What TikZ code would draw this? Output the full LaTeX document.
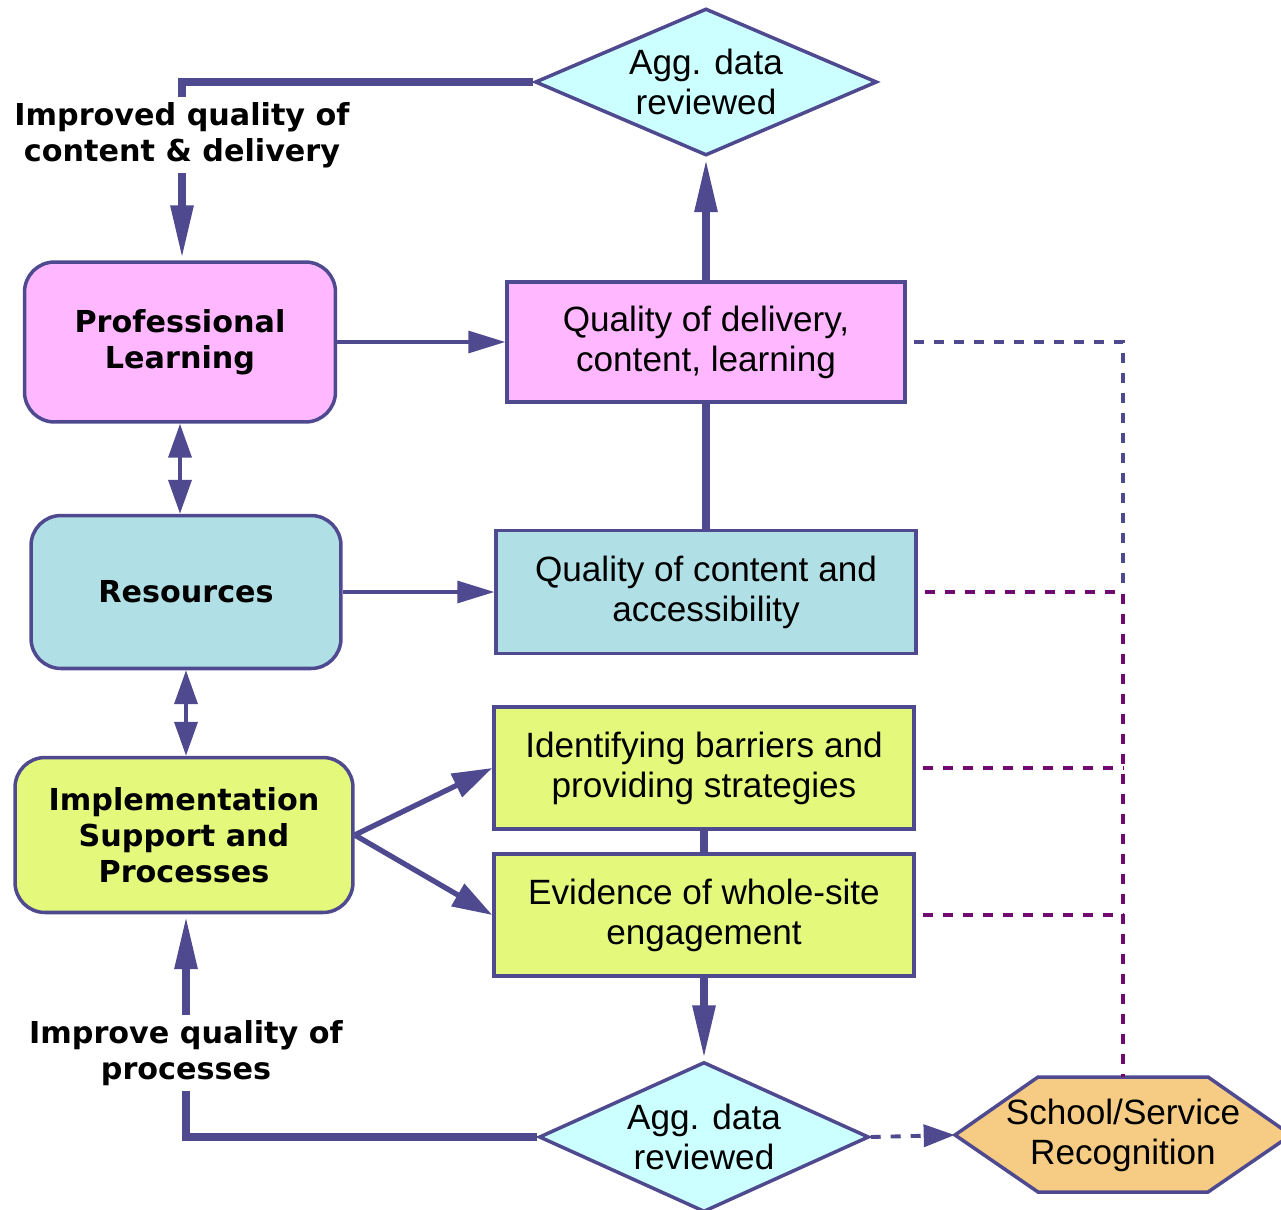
\documentclass[tikz,border=0pt]{standalone}
\usepackage{fontspec}
\setmainfont{Liberation Sans}
\newfontfamily\headfont{DejaVu Sans}
\usetikzlibrary{arrows.meta,shapes.geometric,positioning}
\definecolor{edge}{RGB}{79,74,143}
\definecolor{plpink}{RGB}{255,184,255}
\definecolor{resblue}{RGB}{176,224,230}
\definecolor{impgreen}{RGB}{228,248,124}
\definecolor{aggcyan}{RGB}{204,255,255}
\definecolor{recorange}{RGB}{246,204,132}
\definecolor{dotpurple}{RGB}{112,10,112}
\newcommand\txtsize{\fontsize{20}{22.7}\selectfont}
\newcommand\headsize{\headfont\bfseries\fontsize{17.2}{20.4}\selectfont}
\tikzset{
 box/.style={draw=edge,line width=2pt,align=center,font=\txtsize,inner sep=0pt},
 sidebox/.style={box,rounded corners=0.6cm,font=\headsize},
 aggdiamond/.style={box,shape=diamond,fill=aggcyan},
 sidelabel/.style={align=center,font=\headsize,inner sep=3pt},
 heavy/.style={draw=edge,line width=5pt},
 heavyarrow/.style={heavy,-{Triangle[length=1.1cm,width=0.42cm]}},
 lightarrow/.style={draw=edge,line width=1.8pt,-{Triangle[length=0.74cm,width=0.44cm]}},
 twoway/.style={draw=edge,line width=2.2pt,{Triangle[length=0.68cm,width=0.46cm]}-{Triangle[length=0.68cm,width=0.46cm]}},
 slantarrow/.style={draw=edge,line width=3pt,-{Triangle[length=0.8cm,width=0.5cm]}},
 dotlink/.style={line width=2.2pt,dash pattern=on 0.2cm off 0.2cm},
}
\begin{document}
\begin{tikzpicture}[x=0.02cm,y=-0.02cm]
 \useasboundingbox (0,0) rectangle (1281,1210);
 % left column
 \node[sidebox,fill=plpink,minimum width=6.22cm,minimum height=3.2cm] (pl) at (180,342) {Professional\\Learning};
 \node[sidebox,fill=resblue,minimum width=6.2cm,minimum height=3.06cm] (res) at (186,592) {Resources};
 \node[sidebox,fill=impgreen,minimum width=6.76cm,minimum height=3.1cm] (impl) at (184,835) {Implementation\\Support and\\Processes};
 \node[sidelabel] (lbltop) at (182,135) {Improved quality of\\content \& delivery};
 \node[sidelabel] (lblbot) at (186,1053) {Improve quality of\\processes};
 % centre column
 \node[aggdiamond,aspect=2.33,minimum width=6.84cm,minimum height=2.94cm] (aggtop) at (706,82) {Agg. data\\reviewed};
 \node[box,fill=plpink,minimum width=7.96cm,minimum height=2.4cm] (qdel) at (706,342) {Quality of delivery,\\content, learning};
 \node[box,fill=resblue,minimum width=8.4cm,minimum height=2.46cm] (qcont) at (706,592) {Quality of content and\\accessibility};
 \node[box,fill=impgreen,minimum width=8.4cm,minimum height=2.44cm] (ident) at (704,768) {Identifying barriers and\\providing strategies};
 \node[box,fill=impgreen,minimum width=8.4cm,minimum height=2.44cm] (evid) at (704,915) {Evidence of whole-site\\engagement};
 \node[aggdiamond,aspect=2.2,minimum width=6.6cm,minimum height=3cm] (aggbot) at (704,1137) {Agg. data\\reviewed};
 % recognition
 \draw[draw=edge,line width=2pt,fill=recorange] (955,1135)--(1038,1077)--(1208,1077)--(1291,1135)--(1208,1192)--(1038,1192)--cycle;
 \node[font=\txtsize,align=center,inner sep=0pt,minimum width=6.72cm,minimum height=2.3cm] (rec) at (1123,1135) {School/Service\\Recognition};
 \coordinate (junc) at (1123,592);
 % connectors
 \draw[heavy] (aggtop.west) -| (lbltop.north);
 \draw[heavyarrow] (lbltop.south) -- (lbltop.south |- pl.north);
 \draw[heavyarrow] (qdel.north) -- (aggtop.south);
 \draw[heavy] (qcont.north) -- (qdel.south);
 \draw[heavy] (ident.south) -- (evid.north);
 \draw[heavyarrow] (evid.south) -- (aggbot.north);
 \draw[heavy] (aggbot.west) -| (lblbot.south);
 \draw[heavyarrow] (lblbot.north) -- (lblbot.north |- impl.south);
 \draw[lightarrow] (pl.east) -- (qdel.west);
 \draw[lightarrow] (res.east) -- (qcont.west);
 \draw[twoway] (pl.south) -- (pl.south |- res.north);
 \draw[twoway] (res.south) -- (res.south |- impl.north);
 \draw[slantarrow] (impl.east) -- (ident.west);
 \draw[slantarrow] (impl.east) -- (evid.west);
 \draw[draw=edge,line width=2.2pt,dash pattern=on 0.2cm off 0.2cm,-{Triangle[length=0.62cm,width=0.44cm]}] (aggbot.east) -- (rec.west);
 \draw[dotlink,draw=edge,shorten <=4pt] (qdel.east) -| (junc);
 \draw[dotlink,draw=dotpurple,shorten <=4pt] (qcont.east) -- (junc) -- (rec.north);
 \draw[dotlink,draw=dotpurple,shorten <=4pt] (ident.east) -- (ident.east -| junc);
 \draw[dotlink,draw=dotpurple,shorten <=4pt] (evid.east) -- (evid.east -| junc);
\end{tikzpicture}
\end{document}
